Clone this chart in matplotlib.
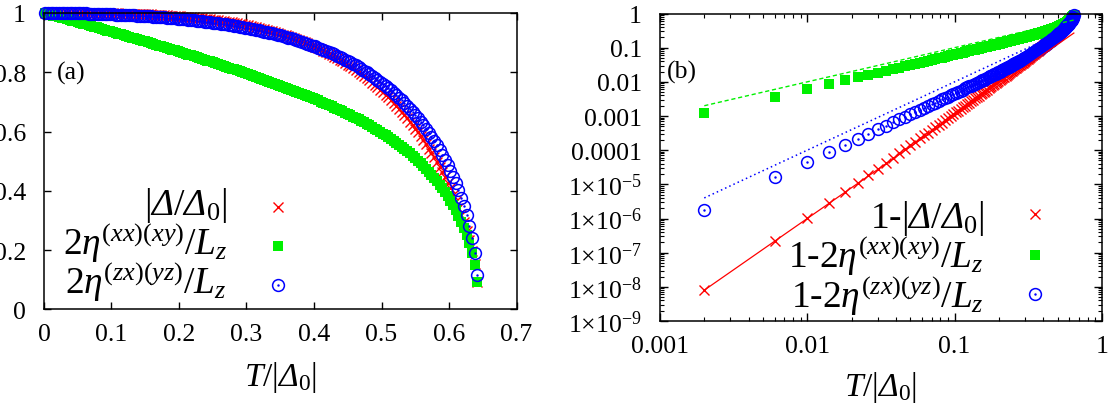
import numpy as np
import matplotlib
matplotlib.use("Agg")
import matplotlib.pyplot as plt
from matplotlib.ticker import LogLocator, NullFormatter

# temperature grid T/|Delta_0|
T = [0.002, 0.006, 0.010, 0.014, 0.018, 0.022, 0.026, 0.030, 0.034, 0.038,
     0.042, 0.046, 0.050, 0.054, 0.058, 0.062, 0.066, 0.070, 0.074, 0.078,
     0.082, 0.086, 0.090, 0.094, 0.098, 0.102, 0.106, 0.110, 0.114, 0.118,
     0.122, 0.126, 0.130, 0.134, 0.138, 0.142, 0.146, 0.150, 0.154, 0.158,
     0.162, 0.166, 0.170, 0.174, 0.178, 0.182, 0.186, 0.190, 0.194, 0.198,
     0.202, 0.206, 0.210, 0.214, 0.218, 0.222, 0.226, 0.230, 0.234, 0.238,
     0.242, 0.246, 0.250, 0.254, 0.258, 0.262, 0.266, 0.270, 0.274, 0.278,
     0.282, 0.286, 0.290, 0.294, 0.298, 0.302, 0.306, 0.310, 0.314, 0.318,
     0.322, 0.326, 0.330, 0.334, 0.338, 0.342, 0.346, 0.350, 0.354, 0.358,
     0.362, 0.366, 0.370, 0.374, 0.378, 0.382, 0.386, 0.390, 0.394, 0.398,
     0.402, 0.406, 0.410, 0.414, 0.418, 0.422, 0.426, 0.430, 0.434, 0.438,
     0.442, 0.446, 0.450, 0.454, 0.458, 0.462, 0.466, 0.470, 0.474, 0.478,
     0.482, 0.486, 0.490, 0.494, 0.498, 0.502, 0.506, 0.510, 0.514, 0.518,
     0.522, 0.526, 0.530, 0.534, 0.538, 0.542, 0.546, 0.550, 0.554, 0.558,
     0.562, 0.566, 0.570, 0.574, 0.578, 0.582, 0.586, 0.590, 0.594, 0.598,
     0.602, 0.606, 0.610, 0.614, 0.618, 0.622, 0.626, 0.630, 0.634, 0.638,
     0.642]

# 1 - |Delta/Delta_0|
gap_def = [8.07e-9, 2.2e-7, 1.03e-6, 2.85e-6, 6.12e-6, 1.13e-5, 1.87e-5, 2.9e-5, 4.25e-5, 5.98e-5,
           8.13e-5, 1.08e-4, 1.39e-4, 1.76e-4, 2.2e-4, 2.7e-4, 3.28e-4, 3.93e-4, 4.68e-4, 5.51e-4,
           6.43e-4, 7.47e-4, 8.6e-4, 9.86e-4, 1.12e-3, 1.27e-3, 1.44e-3, 1.61e-3, 1.81e-3, 2.01e-3,
           2.24e-3, 2.47e-3, 2.73e-3, 3.01e-3, 3.3e-3, 0.0036, 0.0039, 0.0043, 0.0047, 0.0051,
           0.0055, 0.0059, 0.0064, 0.0069, 0.0074, 0.0080, 0.0086, 0.0092, 0.0098, 0.0105,
           0.0112, 0.0119, 0.0127, 0.0135, 0.0143, 0.0152, 0.0161, 0.0170, 0.0180, 0.0190,
           0.0201, 0.0212, 0.0224, 0.0236, 0.0248, 0.0261, 0.0275, 0.0289, 0.0303, 0.0319,
           0.0334, 0.0350, 0.0367, 0.0384, 0.0402, 0.0421, 0.0440, 0.0460, 0.0481, 0.0502,
           0.0524, 0.0546, 0.0570, 0.0594, 0.0619, 0.0645, 0.0671, 0.0699, 0.0727, 0.0757,
           0.0787, 0.0818, 0.0850, 0.0883, 0.0917, 0.0952, 0.0989, 0.1026, 0.1065, 0.1104,
           0.1145, 0.1187, 0.1231, 0.1275, 0.1321, 0.1369, 0.1417, 0.1468, 0.1519, 0.1573,
           0.1628, 0.1684, 0.1742, 0.1802, 0.1863, 0.1927, 0.1992, 0.2059, 0.2128, 0.2199,
           0.2272, 0.2348, 0.2425, 0.2505, 0.2587, 0.2671, 0.2758, 0.2848, 0.2940, 0.3035,
           0.3133, 0.3234, 0.3337, 0.3444, 0.3554, 0.3668, 0.3785, 0.3906, 0.4030, 0.4159,
           0.4292, 0.4429, 0.4571, 0.4718, 0.4870, 0.5028, 0.5192, 0.5362, 0.5539, 0.5725,
           0.5918, 0.6122, 0.6336, 0.6563, 0.6804, 0.7064, 0.7348, 0.7661, 0.8020, 0.8453,
           0.9057]

# 1 - 2 eta^(xx)(xy) / L_z
xy_def = [0.00122, 0.00367, 0.00612, 0.00857, 0.0110, 0.0135, 0.0160, 0.0185, 0.0210, 0.0234,
          0.0260, 0.0285, 0.0310, 0.0335, 0.0360, 0.0386, 0.0411, 0.0436, 0.0462, 0.0488,
          0.0513, 0.0539, 0.0565, 0.0591, 0.0617, 0.0643, 0.0669, 0.0695, 0.0721, 0.0748,
          0.0774, 0.0800, 0.0827, 0.0854, 0.0880, 0.0907, 0.0934, 0.0961, 0.0988, 0.1015,
          0.1042, 0.1070, 0.1097, 0.1124, 0.1152, 0.1180, 0.1207, 0.1235, 0.1263, 0.1291,
          0.1319, 0.1347, 0.1376, 0.1404, 0.1433, 0.1461, 0.1490, 0.1519, 0.1548, 0.1577,
          0.1606, 0.1635, 0.1664, 0.1694, 0.1723, 0.1753, 0.1783, 0.1813, 0.1843, 0.1873,
          0.1904, 0.1934, 0.1965, 0.1996, 0.2027, 0.2058, 0.2090, 0.2121, 0.2153, 0.2185,
          0.2217, 0.2249, 0.2281, 0.2314, 0.2347, 0.2380, 0.2414, 0.2447, 0.2481, 0.2515,
          0.2550, 0.2584, 0.2619, 0.2655, 0.2690, 0.2726, 0.2762, 0.2799, 0.2836, 0.2873,
          0.2911, 0.2949, 0.2988, 0.3027, 0.3067, 0.3107, 0.3148, 0.3189, 0.3231, 0.3273,
          0.3316, 0.3360, 0.3405, 0.3450, 0.3496, 0.3543, 0.3590, 0.3639, 0.3688, 0.3739,
          0.3790, 0.3843, 0.3896, 0.3951, 0.4007, 0.4065, 0.4124, 0.4184, 0.4246, 0.4310,
          0.4376, 0.4443, 0.4512, 0.4584, 0.4658, 0.4734, 0.4812, 0.4894, 0.4978, 0.5066,
          0.5156, 0.5251, 0.5349, 0.5452, 0.5559, 0.5672, 0.5790, 0.5914, 0.6045, 0.6184,
          0.6331, 0.6488, 0.6656, 0.6838, 0.7036, 0.7253, 0.7495, 0.7771, 0.8094, 0.8495,
          0.9073]

# 1 - 2 eta^(zx)(yz) / L_z
yz_def = [1.80e-6, 1.62e-5, 4.50e-5, 8.83e-5, 1.459e-4, 2.18e-4, 3.045e-4, 4.05e-4, 5.21e-4, 6.51e-4,
          7.96e-4, 9.55e-4, 1.128e-3, 1.317e-3, 1.52e-3, 1.738e-3, 1.971e-3, 2.218e-3, 2.481e-3, 2.759e-3,
          3.052e-3, 3.361e-3, 3.685e-3, 4.024e-3, 0.00438, 0.00475, 0.00514, 0.00554, 0.00596, 0.0064,
          0.00685, 0.00732, 0.00781, 0.00832, 0.00884, 0.00938, 0.00994, 0.0105, 0.0111, 0.0117,
          0.0124, 0.013, 0.0137, 0.0144, 0.0151, 0.0159, 0.0166, 0.0174, 0.0182, 0.0191,
          0.0199, 0.0208, 0.0217, 0.0226, 0.0236, 0.0246, 0.0256, 0.0266, 0.0277, 0.0288,
          0.03, 0.0311, 0.0323, 0.0336, 0.0348, 0.0361, 0.0375, 0.0388, 0.0402, 0.0417,
          0.0432, 0.0447, 0.0463, 0.0479, 0.0496, 0.0513, 0.053, 0.0548, 0.0567, 0.0586,
          0.0605, 0.0625, 0.0646, 0.0667, 0.0689, 0.0711, 0.0734, 0.0758, 0.0782, 0.0807,
          0.0833, 0.0859, 0.0887, 0.0914, 0.0943, 0.0972, 0.1, 0.103, 0.107, 0.11,
          0.113, 0.117, 0.12, 0.124, 0.128, 0.132, 0.136, 0.14, 0.144, 0.148,
          0.153, 0.157, 0.162, 0.167, 0.172, 0.177, 0.183, 0.188, 0.194, 0.2,
          0.206, 0.212, 0.218, 0.225, 0.232, 0.239, 0.246, 0.254, 0.261, 0.269,
          0.278, 0.286, 0.295, 0.304, 0.314, 0.323, 0.334, 0.344, 0.355, 0.366,
          0.378, 0.391, 0.404, 0.417, 0.431, 0.446, 0.461, 0.478, 0.495, 0.513,
          0.532, 0.553, 0.574, 0.598, 0.624, 0.652, 0.683, 0.718, 0.759, 0.81,
          0.883]

# power-law guides in panel (b): endpoints of each straight line
fit_T = [0.002, 0.645]
gap_fit = [8e-9, 0.268]
xy_fit = [0.002, 0.645]
yz_fit = [4e-6, 0.416]

T = np.array(T)
gap_def = np.array(gap_def)
xy_def = np.array(xy_def)
yz_def = np.array(yz_def)

plt.rcParams["font.family"] = "serif"
plt.rcParams["font.serif"] = ["Liberation Serif"]
plt.rcParams["mathtext.fontset"] = "custom"
plt.rcParams["mathtext.rm"] = "Liberation Serif"
plt.rcParams["mathtext.it"] = "Liberation Serif:italic"
plt.rcParams["mathtext.sf"] = "Liberation Serif:italic"
plt.rcParams["mathtext.fallback"] = "stix"

fig = plt.figure(figsize=(11.11, 4.10), dpi=100)
ax1 = fig.add_axes([0.0396, 0.2427, 0.4253, 0.7232])
ax2 = fig.add_axes([0.594, 0.2146, 0.3978, 0.75])

red = "#ff0000"
green = "#00f000"
blue = "#0000ff"
st_r = dict(ls="none", marker="x", color=red, ms=7, mew=1.0)
st_g = dict(ls="none", marker="s", color=green, ms=7.5, mew=0)
st_b = dict(ls="none", marker="o", mfc="none", mec=blue, ms=8.5, mew=1.1)
st_d = dict(ls="none", marker=".", color=blue, ms=1.5)

for ax, yr, yg, yb in [(ax1, 1 - gap_def, 1 - xy_def, 1 - yz_def),
                       (ax2, gap_def, xy_def, yz_def)]:
    ax.plot(T, yr, clip_on=False, **st_r)
    ax.plot(T, yg, clip_on=False, **st_g)
    ax.plot(T, yb, clip_on=False, **st_b)
    ax.plot(T, yb, clip_on=False, **st_d)

ax2.plot(fit_T, gap_fit, "-", color=red, lw=0.9)
ax2.plot(fit_T, xy_fit, color=green, lw=1.0, ls=(0, (3, 2)))
ax2.plot(fit_T, yz_fit, color=blue, lw=1.1, ls=(0, (1, 2)))

fs_tick = 18.5
for ax in (ax1, ax2):
    ax.tick_params(which="both", direction="in", top=True, right=True, labelsize=fs_tick)
    ax.tick_params(axis="x", pad=10)
    ax.tick_params(axis="y", pad=13)
    for s in ax.spines.values():
        s.set_linewidth(1.1)

ax1.set_xlim(0, 0.7)
ax1.set_ylim(0, 1)
xt = [0, 0.1, 0.2, 0.3, 0.4, 0.5, 0.6, 0.7]
yt = [0, 0.2, 0.4, 0.6, 0.8, 1]
ax1.set_xticks(xt)
ax1.set_xticklabels(["%g" % v for v in xt])
ax1.set_yticks(yt)
ax1.set_yticklabels(["%g" % v for v in yt])
ax1.tick_params(which="major", length=5, width=1)

ax2.set_xscale("log")
ax2.set_yscale("log")
ax2.set_xlim(1e-3, 1)
ax2.set_ylim(1e-9, 1)
ax2.set_xticks([1e-3, 1e-2, 1e-1, 1])
ax2.set_xticklabels(["0.001", "0.01", "0.1", "1"])
ylabs = ["1" + r"$\times$" + "10$^{-%d}$" % k for k in range(9, 4, -1)] + ["0.0001", "0.001", "0.01", "0.1", "1"]
ax2.set_yticks([10.0**k for k in range(-9, 1)])
ax2.set_yticklabels(ylabs)
ax2.xaxis.set_minor_locator(LogLocator(base=10, subs=np.arange(2, 10), numticks=20))
ax2.yaxis.set_minor_locator(LogLocator(base=10, subs=np.arange(2, 10), numticks=20))
ax2.xaxis.set_minor_formatter(NullFormatter())
ax2.yaxis.set_minor_formatter(NullFormatter())
ax2.tick_params(which="major", length=6, width=1)
ax2.tick_params(which="minor", length=3, width=0.8)

xl = r"$T/|\mathsf{\Delta}_0|$"
ax1.set_xlabel(xl, fontsize=24, labelpad=10)
ax2.set_xlabel(xl, fontsize=24, labelpad=9)
ax1.text(0.0275, 0.801, "(a)", transform=ax1.transAxes, va="center", ha="left", fontsize=fs_tick)
ax2.text(0.016, 0.811, "(b)", transform=ax2.transAxes, va="center", ha="left", fontsize=fs_tick)

# keys, gnuplot style: label right-justified, sample marker after it
lab_a = [r"$|\mathsf{\Delta}/\mathsf{\Delta}_0|$", r"$2\eta^{(xx)(xy)}/L_z$", r"$2\eta^{(zx)(yz)}/L_z$"]
lab_b = ["1-" + s for s in lab_a]
for ax, labs, tx, mx, base, my in [
        (ax1, lab_a, 0.3873, 0.4959, [0.3204, 0.1872, 0.054], [0.3447, 0.2152, 0.0826]),
        (ax2, lab_b, 0.733, 0.8484, [0.3047, 0.1772, 0.0465], [0.348, 0.2146, 0.0878])]:
    for i, (lab, st) in enumerate(zip(labs, [st_r, st_g, st_b])):
        ax.text(tx, base[i], lab, transform=ax.transAxes, ha="right", va="baseline", fontsize=27)
        ax.plot([mx], [my[i]], transform=ax.transAxes, clip_on=False, **st)
    ax.plot([mx], [my[2]], transform=ax.transAxes, clip_on=False, **st_d)

fig.savefig("out.png", dpi=100)
